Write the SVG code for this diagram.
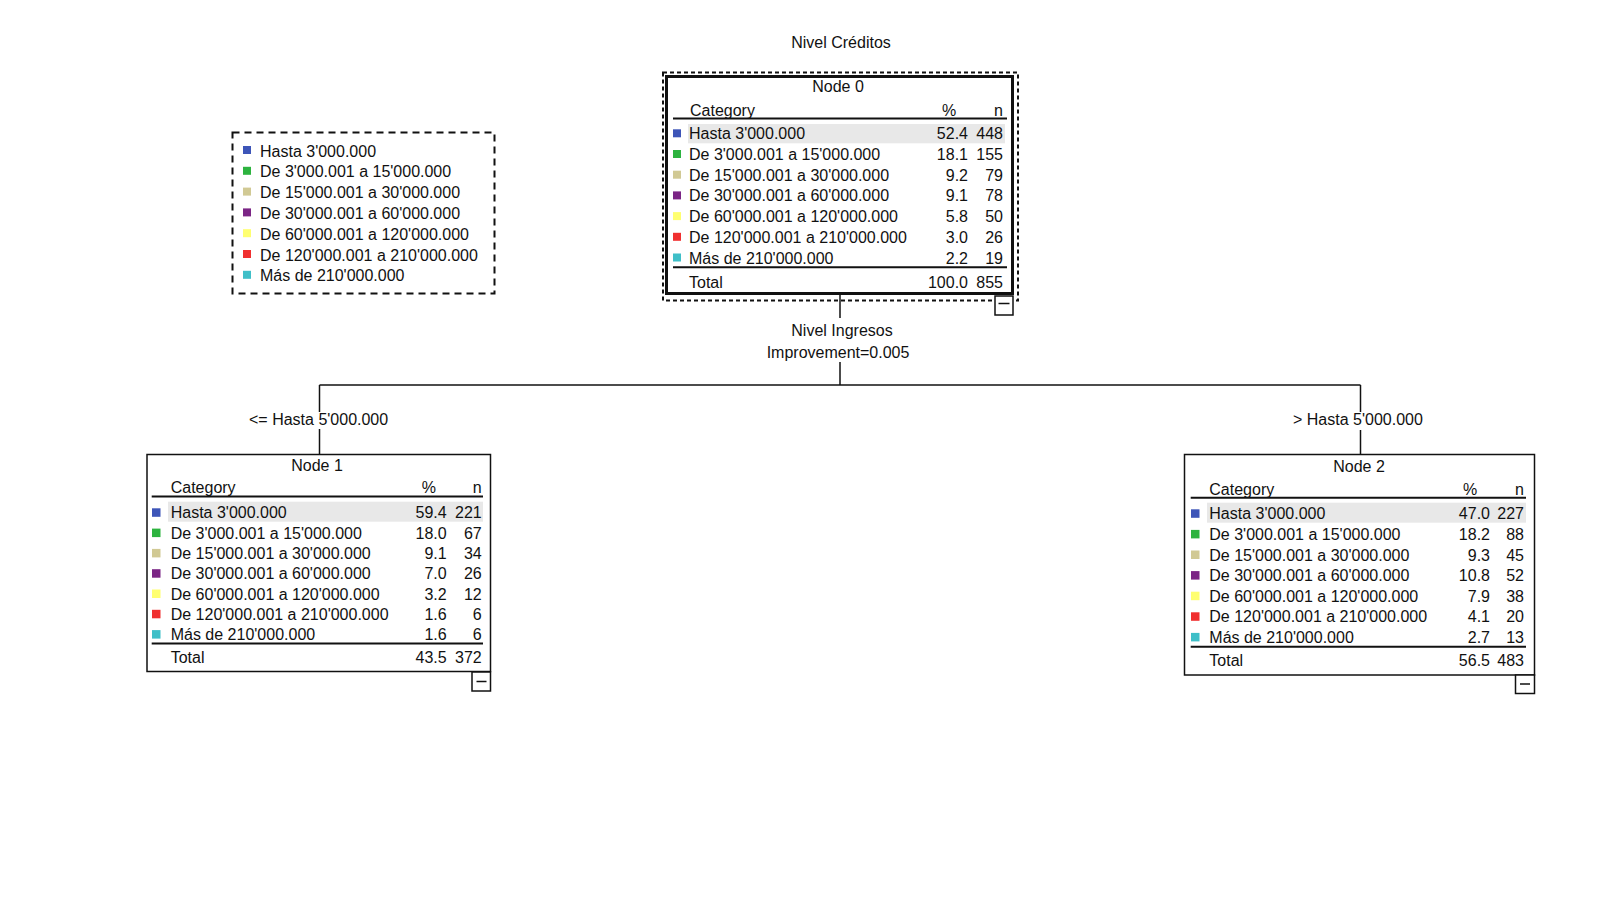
<svg xmlns="http://www.w3.org/2000/svg" width="1606" height="902" viewBox="0 0 1606 902">
<style>
text{font-family:"Liberation Sans",Arial,sans-serif;font-size:16px;fill:#111}
.e{text-anchor:end}
.m{text-anchor:middle}
.box{fill:#fff;stroke:#111;stroke-width:1.5}
.rule{stroke:#111;stroke-width:2}
.hl{fill:#e8e8e8}
.c{stroke:#111;stroke-width:1.5;fill:none}
.c1{fill:#3d55b8}.c2{fill:#2db33f}.c3{fill:#d1c994}.c4{fill:#7b2585}.c5{fill:#ffff70}.c6{fill:#f03030}.c7{fill:#3fbfc8}
.tog{fill:#fff;stroke:#111;stroke-width:1.5}
</style>
<rect width="1606" height="902" fill="#fff"/>

<text class="m" x="841" y="48">Nivel Créditos</text>

<g id="legend">
<rect x="232.5" y="132.5" width="262" height="161" fill="#fff" stroke="#111" stroke-width="2" stroke-dasharray="7,5"/>
<rect class="c1" x="243" y="146" width="8" height="8"/>
<rect class="c2" x="243" y="166.8" width="8" height="8"/>
<rect class="c3" x="243" y="187.6" width="8" height="8"/>
<rect class="c4" x="243" y="208.4" width="8" height="8"/>
<rect class="c5" x="243" y="229.2" width="8" height="8"/>
<rect class="c6" x="243" y="250" width="8" height="8"/>
<rect class="c7" x="243" y="270.8" width="8" height="8"/>
<text x="260" y="156.5">Hasta 3'000.000</text>
<text x="260" y="177.3">De 3'000.001 a 15'000.000</text>
<text x="260" y="198.1">De 15'000.001 a 30'000.000</text>
<text x="260" y="218.9">De 30'000.001 a 60'000.000</text>
<text x="260" y="239.7">De 60'000.001 a 120'000.000</text>
<text x="260" y="260.5">De 120'000.001 a 210'000.000</text>
<text x="260" y="281.3">Más de 210'000.000</text>
</g>

<g id="connectors">
<line class="c" x1="840" y1="295" x2="840" y2="318"/>
<line class="c" x1="840" y1="362" x2="840" y2="385"/>
<text class="m" x="842" y="336">Nivel Ingresos</text>
<text class="m" x="838" y="358">Improvement=0.005</text>
<line class="c" x1="319.5" y1="385" x2="1360.5" y2="385"/>
<line class="c" x1="319.5" y1="385" x2="319.5" y2="412"/>
<line class="c" x1="319.5" y1="429" x2="319.5" y2="454"/>
<text x="249" y="424.5">&lt;= Hasta 5'000.000</text>
<line class="c" x1="1360.5" y1="385" x2="1360.5" y2="412"/>
<line class="c" x1="1360.5" y1="430" x2="1360.5" y2="454"/>
<text x="1293" y="424.5">&gt; Hasta 5'000.000</text>
</g>

<g id="node0">
<rect x="663" y="72.5" width="355" height="228" fill="none" stroke="#111" stroke-width="2" stroke-dasharray="4,3"/>
<rect x="666.5" y="76.5" width="346" height="217" fill="#fff" stroke="#111" stroke-width="3"/>
<text class="m" x="838" y="91.5">Node 0</text>
<text x="690" y="116">Category</text>
<text x="942" y="116">%</text>
<text class="e" x="1003" y="116">n</text>
<line class="rule" x1="673" y1="118.5" x2="1007" y2="118.5"/>
<rect class="hl" x="688" y="124" width="317" height="19.3"/>
<rect class="c1" x="673" y="129.3" width="8" height="8"/>
<rect class="c2" x="673" y="150" width="8" height="8"/>
<rect class="c3" x="673" y="170.7" width="8" height="8"/>
<rect class="c4" x="673" y="191.4" width="8" height="8"/>
<rect class="c5" x="673" y="212.1" width="8" height="8"/>
<rect class="c6" x="673" y="232.8" width="8" height="8"/>
<rect class="c7" x="673" y="253.5" width="8" height="8"/>
<text x="689" y="139.3">Hasta 3'000.000</text>
<text x="689" y="160">De 3'000.001 a 15'000.000</text>
<text x="689" y="180.7">De 15'000.001 a 30'000.000</text>
<text x="689" y="201.4">De 30'000.001 a 60'000.000</text>
<text x="689" y="222.1">De 60'000.001 a 120'000.000</text>
<text x="689" y="242.8">De 120'000.001 a 210'000.000</text>
<text x="689" y="263.5">Más de 210'000.000</text>
<text class="e" x="968" y="139.3">52.4</text>
<text class="e" x="968" y="160">18.1</text>
<text class="e" x="968" y="180.7">9.2</text>
<text class="e" x="968" y="201.4">9.1</text>
<text class="e" x="968" y="222.1">5.8</text>
<text class="e" x="968" y="242.8">3.0</text>
<text class="e" x="968" y="263.5">2.2</text>
<text class="e" x="1003" y="139.3">448</text>
<text class="e" x="1003" y="160">155</text>
<text class="e" x="1003" y="180.7">79</text>
<text class="e" x="1003" y="201.4">78</text>
<text class="e" x="1003" y="222.1">50</text>
<text class="e" x="1003" y="242.8">26</text>
<text class="e" x="1003" y="263.5">19</text>
<line class="rule" x1="673" y1="267.3" x2="1007" y2="267.3"/>
<text x="689" y="288">Total</text>
<text class="e" x="968" y="288">100.0</text>
<text class="e" x="1003" y="288">855</text>
<rect class="tog" x="995" y="296" width="18" height="19"/>
<line class="c" x1="998.5" y1="303.5" x2="1009.5" y2="303.5"/>
</g>

<g id="node1">
<rect class="box" x="147" y="454.5" width="343.5" height="217"/>
<text class="m" x="317" y="470.7">Node 1</text>
<text x="170.7" y="493.3">Category</text>
<text x="421.7" y="493.3">%</text>
<text class="e" x="481.7" y="493.3">n</text>
<line class="rule" x1="151.7" y1="496.5" x2="483" y2="496.5"/>
<rect class="hl" x="168" y="501.7" width="315" height="20"/>
<rect class="c1" x="152" y="508.3" width="8.5" height="8.5"/>
<rect class="c2" x="152" y="528.6" width="8.5" height="8.5"/>
<rect class="c3" x="152" y="548.9" width="8.5" height="8.5"/>
<rect class="c4" x="152" y="569.2" width="8.5" height="8.5"/>
<rect class="c5" x="152" y="589.5" width="8.5" height="8.5"/>
<rect class="c6" x="152" y="609.8" width="8.5" height="8.5"/>
<rect class="c7" x="152" y="630.1" width="8.5" height="8.5"/>
<text x="170.7" y="518.3">Hasta 3'000.000</text>
<text x="170.7" y="538.6">De 3'000.001 a 15'000.000</text>
<text x="170.7" y="558.9">De 15'000.001 a 30'000.000</text>
<text x="170.7" y="579.2">De 30'000.001 a 60'000.000</text>
<text x="170.7" y="599.5">De 60'000.001 a 120'000.000</text>
<text x="170.7" y="619.8">De 120'000.001 a 210'000.000</text>
<text x="170.7" y="640.1">Más de 210'000.000</text>
<text class="e" x="446.7" y="518.3">59.4</text>
<text class="e" x="446.7" y="538.6">18.0</text>
<text class="e" x="446.7" y="558.9">9.1</text>
<text class="e" x="446.7" y="579.2">7.0</text>
<text class="e" x="446.7" y="599.5">3.2</text>
<text class="e" x="446.7" y="619.8">1.6</text>
<text class="e" x="446.7" y="640.1">1.6</text>
<text class="e" x="481.7" y="518.3">221</text>
<text class="e" x="481.7" y="538.6">67</text>
<text class="e" x="481.7" y="558.9">34</text>
<text class="e" x="481.7" y="579.2">26</text>
<text class="e" x="481.7" y="599.5">12</text>
<text class="e" x="481.7" y="619.8">6</text>
<text class="e" x="481.7" y="640.1">6</text>
<line class="rule" x1="151.7" y1="643.5" x2="483" y2="643.5"/>
<text x="170.7" y="663.3">Total</text>
<text class="e" x="446.7" y="663.3">43.5</text>
<text class="e" x="481.7" y="663.3">372</text>
<rect class="tog" x="472" y="672" width="18.5" height="19"/>
<line class="c" x1="476.5" y1="681.5" x2="486.5" y2="681.5"/>
</g>

<g id="node2">
<rect class="box" x="1184.5" y="454.5" width="350" height="220.5"/>
<text class="m" x="1359" y="471.7">Node 2</text>
<text x="1209.3" y="495">Category</text>
<text x="1463" y="495">%</text>
<text class="e" x="1524" y="495">n</text>
<line class="rule" x1="1190.7" y1="497.8" x2="1526" y2="497.8"/>
<rect class="hl" x="1207" y="502.7" width="319" height="20"/>
<rect class="c1" x="1191" y="509.3" width="8.5" height="8.5"/>
<rect class="c2" x="1191" y="529.9" width="8.5" height="8.5"/>
<rect class="c3" x="1191" y="550.5" width="8.5" height="8.5"/>
<rect class="c4" x="1191" y="571.1" width="8.5" height="8.5"/>
<rect class="c5" x="1191" y="591.7" width="8.5" height="8.5"/>
<rect class="c6" x="1191" y="612.3" width="8.5" height="8.5"/>
<rect class="c7" x="1191" y="632.9" width="8.5" height="8.5"/>
<text x="1209.3" y="519.3">Hasta 3'000.000</text>
<text x="1209.3" y="539.9">De 3'000.001 a 15'000.000</text>
<text x="1209.3" y="560.5">De 15'000.001 a 30'000.000</text>
<text x="1209.3" y="581.1">De 30'000.001 a 60'000.000</text>
<text x="1209.3" y="601.7">De 60'000.001 a 120'000.000</text>
<text x="1209.3" y="622.3">De 120'000.001 a 210'000.000</text>
<text x="1209.3" y="642.9">Más de 210'000.000</text>
<text class="e" x="1490" y="519.3">47.0</text>
<text class="e" x="1490" y="539.9">18.2</text>
<text class="e" x="1490" y="560.5">9.3</text>
<text class="e" x="1490" y="581.1">10.8</text>
<text class="e" x="1490" y="601.7">7.9</text>
<text class="e" x="1490" y="622.3">4.1</text>
<text class="e" x="1490" y="642.9">2.7</text>
<text class="e" x="1524" y="519.3">227</text>
<text class="e" x="1524" y="539.9">88</text>
<text class="e" x="1524" y="560.5">45</text>
<text class="e" x="1524" y="581.1">52</text>
<text class="e" x="1524" y="601.7">38</text>
<text class="e" x="1524" y="622.3">20</text>
<text class="e" x="1524" y="642.9">13</text>
<line class="rule" x1="1190.7" y1="646.7" x2="1526" y2="646.7"/>
<text x="1209.3" y="666">Total</text>
<text class="e" x="1490" y="666">56.5</text>
<text class="e" x="1524" y="666">483</text>
<rect class="tog" x="1515.5" y="675" width="19" height="18.5"/>
<line class="c" x1="1520" y1="684" x2="1530" y2="684"/>
</g>
</svg>
